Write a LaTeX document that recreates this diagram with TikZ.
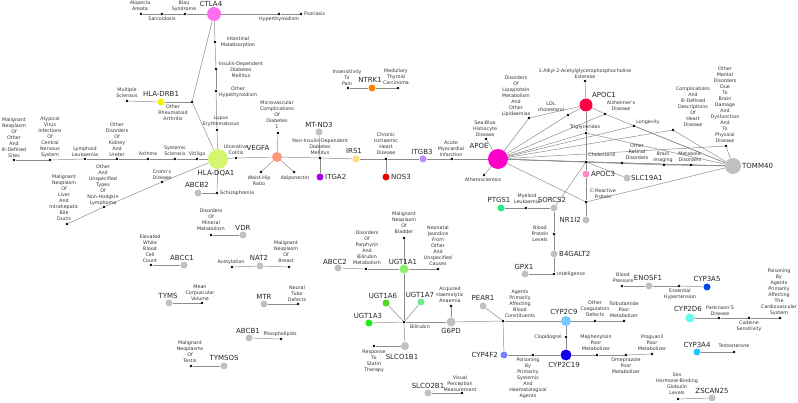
\documentclass[tikz,border=0pt]{standalone}
\usepackage{fontspec}
\setmainfont{DejaVu Sans}
\usetikzlibrary{backgrounds}
\definecolor{cctla}{RGB}{250,110,240}
\definecolor{cdrb}{RGB}{245,245,0}
\definecolor{cdqa}{RGB}{212,245,110}
\definecolor{cvegf}{RGB}{255,150,120}
\definecolor{cgrey}{RGB}{192,192,192}
\definecolor{citga}{RGB}{170,0,240}
\definecolor{cirs}{RGB}{255,220,120}
\definecolor{cnos}{RGB}{235,0,0}
\definecolor{citgb}{RGB}{185,140,255}
\definecolor{cntrk}{RGB}{255,130,0}
\definecolor{capoe}{RGB}{255,0,200}
\definecolor{capoc1}{RGB}{255,0,70}
\definecolor{capoc3}{RGB}{255,135,200}
\definecolor{cptgs}{RGB}{30,235,130}
\definecolor{cugt1}{RGB}{140,240,110}
\definecolor{cugt7}{RGB}{110,235,140}
\definecolor{cugt6}{RGB}{70,220,40}
\definecolor{cugt3}{RGB}{30,235,20}
\definecolor{ccypnine}{RGB}{120,200,255}
\definecolor{ccypnineteen}{RGB}{20,0,235}
\definecolor{ccypfourf}{RGB}{120,130,255}
\definecolor{ccypfive}{RGB}{0,70,235}
\definecolor{ccypdsix}{RGB}{100,250,235}
\definecolor{ccypfour}{RGB}{30,200,240}
\begin{document}
\begin{tikzpicture}[x=1pt,y=-1pt,
  gene/.style={circle,inner sep=0pt,draw=none,minimum size=#1},
  tdot/.style={circle,fill=black,inner sep=0pt,minimum size=2.6pt},
  link/.style={draw=black!45,line width=0.5pt},
  glab/.style={inner sep=0pt,font=\fontsize{7}{8}\selectfont,text=black!85},
  tlab/.style={inner sep=0pt,align=center,font=\fontsize{4.8}{6}\selectfont,text=black!80}]
\path[use as bounding box] (0,0) rectangle (798,403);

% ---------- gene nodes ----------
\node[gene=14pt,fill=cctla] (ctla4) at (214,14) {};
\node[gene=7pt,fill=cdrb] (drb1) at (161,102) {};
\node[gene=20pt,fill=cdqa] (dqa1) at (218,159) {};
\node[gene=10pt,fill=cvegf] (vegfa) at (277,157) {};
\node[gene=7pt,fill=cgrey] (mtnd3) at (319,132) {};
\node[gene=7pt,fill=citga] (itga2) at (320,177) {};
\node[gene=7pt,fill=cirs] (irs1) at (356,159) {};
\node[gene=7pt,fill=cnos] (nos3) at (386,177) {};
\node[gene=7pt,fill=citgb] (itgb3) at (423,159) {};
\node[gene=7pt,fill=cntrk] (ntrk1) at (372,88) {};
\node[gene=20pt,fill=capoe] (apoe) at (498,159) {};
\node[gene=13pt,fill=capoc1] (apoc1) at (586,105) {};
\node[gene=7pt,fill=capoc3] (apoc3) at (586,174) {};
\node[gene=16pt,fill=cgrey] (tomm40) at (733,166) {};
\node[gene=7pt,fill=cgrey] (slc19a1) at (627,178) {};
\node[gene=7pt,fill=cgrey] (nr1i2) at (586,220) {};
\node[gene=7pt,fill=cgrey] (sorcs2) at (554,208) {};
\node[gene=7pt,fill=cptgs] (ptgs1) at (501,208) {};
\node[gene=7pt,fill=cgrey] (b4galt2) at (554,254) {};
\node[gene=7pt,fill=cgrey] (gpx1) at (525,274) {};
\node[gene=9pt,fill=cugt1] (ugt1a1) at (404,269) {};
\node[gene=7pt,fill=cugt7] (ugt1a7) at (421,302) {};
\node[gene=7pt,fill=cugt6] (ugt1a6) at (386,303) {};
\node[gene=7pt,fill=cugt3] (ugt1a3) at (369,323) {};
\node[gene=8pt,fill=cgrey] (slco1b1) at (405,346) {};
\node[gene=9pt,fill=cgrey] (g6pd) at (451,322) {};
\node[gene=7pt,fill=cgrey] (pear1) at (483,306) {};
\node[gene=10pt,fill=ccypnine] (cyp2c9) at (566,321) {};
\node[gene=11pt,fill=ccypnineteen] (cyp2c19) at (566,355) {};
\node[gene=7pt,fill=ccypfourf] (cyp4f2) at (504,355) {};
\node[gene=7pt,fill=cgrey] (enosf1) at (649,286) {};
\node[gene=7pt,fill=ccypfive] (cyp3a5) at (707,287) {};
\node[gene=9pt,fill=ccypdsix] (cyp2d6) at (690,318) {};
\node[gene=7pt,fill=ccypfour] (cyp3a4) at (697,352) {};
\node[gene=7pt,fill=cgrey] (zscan25) at (712,398) {};
\node[gene=7pt,fill=cgrey] (vdr) at (243,235) {};
\node[gene=7pt,fill=cgrey] (nat2) at (260,266) {};
\node[gene=7pt,fill=cgrey] (abcc1) at (184,265) {};
\node[gene=7pt,fill=cgrey] (tyms) at (169,303) {};
\node[gene=7pt,fill=cgrey] (mtr) at (264,304) {};
\node[gene=7pt,fill=cgrey] (abcb1) at (249,338) {};
\node[gene=7pt,fill=cgrey] (tymsos) at (224,366) {};
\node[gene=7pt,fill=cgrey] (slco2b1) at (428,393) {};
\node[gene=7pt,fill=cgrey] (abcb2) at (198,193) {};
\node[gene=7pt,fill=cgrey] (abcc2) at (338,268) {};

% ---------- trait dots ----------
\foreach \n/\x/\y in {t_alop/141/14,t_sarc/162/14,t_blau/185/14,t_hyper/279/14,t_psor/301/14,
  t_intest/215/42,t_iddm/216/69,t_ohypo/216/91,t_lupus/217/130,t_ms/127/101,t_ra/192/102,
  t_mo/14/160,t_atyp/50/160,t_lymph/85/159,t_kid/117/159,t_asth/148/159,t_syssc/175/159,t_vit/197/159,
  t_uc/236/158,t_crohn/162/182,t_nhl/104/207,t_liver/67/224,t_schiz/217/193,
  t_micro/278/133,t_waist/261/172,t_adipo/294/172,t_niddm/320/158,
  t_chd/386/159,t_ami/452/159,t_sea/486/139,t_ather/484/175,t_ins/348/88,t_mtc/398/88,
  t_alkyl/585/81,t_lipo/529/118,t_ldl/568/115,t_trig/586/133,t_alz/605/114,t_long/634/126,
  t_compl/673/130,t_ment/726/146,t_chol/586/162,t_ret/622/163,t_brain/664/165,t_metab/691/165,t_crp/586/202,
  t_myel/526/208,t_bpl/554/234,t_intel/554/274,
  t_bladder/404/238,t_neon/438/269,t_porph/366/269,t_bili/404/322,t_aha/451/306,t_agents/503/321,
  t_statin/374/346,t_clop/566/337,t_poison/533/355,t_ocd/595/321,t_tolb/624/321,
  t_meph/597/355,t_omep/626/355,t_prog/652/354,
  t_bp/622/286,t_eh/679/286,t_park/719/318,t_cod/749/318,t_poisc/780/318,t_testo/734/352,t_shbg/678/399,
  t_dismin/211/235,t_acet/232/267,t_breast/289/267,t_ewbc/151/265,t_mcv/202/303,t_ntd/298/304,
  t_phos/281/339,t_testis/191/366,t_visual/462/393}
  \node[tdot] (\n) at (\x,\y) {};

% ---------- connectors ----------
\begin{scope}[on background layer]
\foreach \a/\b in {ctla4/t_blau,t_blau/t_sarc,t_sarc/t_alop,ctla4/t_hyper,t_hyper/t_psor,
  ctla4/t_intest,t_intest/t_iddm,t_iddm/t_ohypo,t_ohypo/t_lupus,t_lupus/dqa1,
  ctla4/t_ra,t_ra/dqa1,t_ra/drb1,drb1/t_ms,
  t_mo/t_atyp,t_atyp/t_lymph,t_lymph/t_kid,t_kid/t_asth,t_asth/t_syssc,t_syssc/t_vit,t_vit/dqa1,
  dqa1/t_crohn,t_crohn/t_nhl,t_nhl/t_liver,dqa1/t_schiz,t_schiz/abcb2,
  dqa1/t_uc,t_uc/vegfa,vegfa/t_micro,vegfa/t_waist,vegfa/t_adipo,vegfa/t_niddm,
  t_niddm/mtnd3,t_niddm/itga2,t_niddm/irs1,irs1/t_chd,t_chd/nos3,t_chd/itgb3,itgb3/t_ami,t_ami/apoe,
  t_ins/ntrk1,ntrk1/t_mtc,
  apoe/t_sea,apoe/t_ather,apoe/t_lipo,apoe/t_ldl,apoe/t_trig,apoe/t_alz,apoe/t_long,apoe/t_compl,
  apoe/t_ment,apoe/t_chol,apoe/t_ret,apoe/t_brain,apoe/t_metab,apoe/t_crp,
  apoc1/t_alkyl,apoc1/t_lipo,apoc1/t_ldl,apoc1/t_trig,apoc1/t_alz,
  t_trig/t_chol,t_chol/apoc3,apoc3/t_crp,t_crp/nr1i2,
  tomm40/t_alz,tomm40/t_long,tomm40/t_compl,tomm40/t_ment,tomm40/t_chol,tomm40/t_ret,
  tomm40/t_brain,tomm40/t_metab,tomm40/t_crp,tomm40/t_trig,
  t_chol/slc19a1,sorcs2/t_chol,sorcs2/t_myel,t_myel/ptgs1,sorcs2/t_bpl,t_bpl/b4galt2,
  b4galt2/t_intel,t_intel/gpx1,
  abcc2/t_porph,t_porph/ugt1a1,ugt1a1/t_neon,ugt1a1/t_bladder,ugt1a1/t_bili,
  ugt1a6/t_bili,ugt1a7/t_bili,ugt1a3/t_bili,t_bili/slco1b1,slco1b1/t_statin,
  t_bili/g6pd,g6pd/t_aha,g6pd/t_agents,t_agents/pear1,t_agents/cyp2c9,t_agents/cyp4f2,
  cyp4f2/t_poison,t_poison/cyp2c19,cyp2c9/t_clop,t_clop/cyp2c19,
  cyp2c9/t_ocd,t_ocd/t_tolb,cyp2c19/t_meph,t_meph/t_omep,t_omep/t_prog,
  t_bp/enosf1,enosf1/t_eh,t_eh/cyp3a5,cyp2d6/t_park,t_park/t_cod,t_cod/t_poisc,
  cyp3a4/t_testo,t_shbg/zscan25,
  t_dismin/vdr,t_acet/nat2,nat2/t_breast,t_ewbc/abcc1,tyms/t_mcv,mtr/t_ntd,abcb1/t_phos,
  t_testis/tymsos,slco2b1/t_visual}
  \draw[link] (\a) -- (\b);
\end{scope}

% ---------- gene labels ----------
\node[glab] (l_ctla4) at (211,4) {CTLA4};
\node[glab] (l_drb1) at (161,94) {HLA-DRB1};
\node[glab] (l_dqa1) at (216,173) {HLA-DQA1};
\node[glab] (l_vegfa) at (258,148) {VEGFA};
\node[glab] (l_mtnd3) at (319,125) {MT-ND3};
\node[glab,anchor=west] (l_itga2) at (325,177) {ITGA2};
\node[glab] (l_irs1) at (354,151) {IRS1};
\node[glab,anchor=west] (l_nos3) at (391,177) {NOS3};
\node[glab] (l_itgb3) at (422,152) {ITGB3};
\node[glab] (l_ntrk1) at (370,80) {NTRK1};
\node[glab] (l_apoe) at (479,146) {APOE};
\node[glab] (l_apoc1) at (604,95) {APOC1};
\node[glab,anchor=west] (l_apoc3) at (591,174) {APOC3};
\node[glab,anchor=west] (l_tomm40) at (742,166) {TOMM40};
\node[glab,anchor=west] (l_slc19a1) at (631,178) {SLC19A1};
\node[glab,anchor=east] (l_nr1i2) at (581,220) {NR1I2};
\node[glab] (l_sorcs2) at (552,200) {SORCS2};
\node[glab] (l_ptgs1) at (499,200) {PTGS1};
\node[glab,anchor=west] (l_b4galt2) at (559,254) {B4GALT2};
\node[glab] (l_gpx1) at (524,267) {GPX1};
\node[glab] (l_ugt1a1) at (403,262) {UGT1A1};
\node[glab] (l_ugt1a7) at (420,295) {UGT1A7};
\node[glab] (l_ugt1a6) at (383,296) {UGT1A6};
\node[glab] (l_ugt1a3) at (368,316) {UGT1A3};
\node[glab] (l_slco1b1) at (402,357) {SLCO1B1};
\node[glab] (l_g6pd) at (451,331) {G6PD};
\node[glab] (l_pear1) at (483,298) {PEAR1};
\node[glab] (l_cyp2c9) at (564,312) {CYP2C9};
\node[glab] (l_cyp2c19) at (564,365) {CYP2C19};
\node[glab,anchor=east] (l_cyp4f2) at (498,355) {CYP4F2};
\node[glab] (l_enosf1) at (648,278) {ENOSF1};
\node[glab] (l_cyp3a5) at (707,279) {CYP3A5};
\node[glab] (l_cyp2d6) at (688,309) {CYP2D6};
\node[glab] (l_cyp3a4) at (697,345) {CYP3A4};
\node[glab] (l_zscan25) at (712,391) {ZSCAN25};
\node[glab] (l_vdr) at (243,228) {VDR};
\node[glab] (l_nat2) at (259,258) {NAT2};
\node[glab] (l_abcc1) at (182,258) {ABCC1};
\node[glab] (l_tyms) at (168,296) {TYMS};
\node[glab] (l_mtr) at (264,297) {MTR};
\node[glab] (l_abcb1) at (248,331) {ABCB1};
\node[glab] (l_tymsos) at (224,358) {TYMSOS};
\node[glab] (l_slco2b1) at (428,386) {SLCO2B1};
\node[glab] (l_abcb2) at (197,185) {ABCB2};
\node[glab] (l_abcc2) at (335,262) {ABCC2};

% ---------- trait labels ----------
\node[tlab] (m_alop) at (140,6) {Alopecia\\Areata};
\node[tlab] (m_sarc) at (162,19) {Sarcoidosis};
\node[tlab] (m_blau) at (184,6) {Blau\\Syndrome};
\node[tlab] (m_hyper) at (279,19) {Hyperthyroidism};
\node[tlab,anchor=west] (m_psor) at (304,14) {Psoriasis};
\node[tlab] (m_intest) at (238,42) {Intestinal\\Malabsorption};
\node[tlab] (m_iddm) at (241,70) {Insulin-Dependent\\Diabetes\\Mellitus};
\node[tlab] (m_ohypo) at (238,92) {Other\\Hypothyroidism};
\node[tlab] (m_lupus) at (221,121) {Lupus\\Erythematosus};
\node[tlab] (m_ms) at (127,93) {Multiple\\Sclerosis};
\node[tlab] (m_ra) at (173,113) {Other\\Rheumatoid\\Arthritis};
\node[tlab] (m_mo) at (14,137.5) {Malignant\\Neoplasm\\Of\\Other\\And\\Ill-Defined\\Sites};
\node[tlab] (m_atyp) at (50,137.5) {Atypical\\Virus\\Infections\\Of\\Central\\Nervous\\System};
\node[tlab] (m_lymph) at (85,152) {Lymphoid\\Leukaemia};
\node[tlab] (m_kid) at (117,140) {Other\\Disorders\\Of\\Kidney\\And\\Ureter};
\node[tlab] (m_asth) at (148,154) {Asthma};
\node[tlab] (m_syssc) at (175,151) {Systemic\\Sclerosis};
\node[tlab] (m_vit) at (197,154) {Vitiligo};
\node[tlab] (m_uc) at (236,150) {Ulcerative\\Colitis};
\node[tlab] (m_crohn) at (162,175) {Crohn's\\Disease};
\node[tlab] (m_nhl) at (103,185) {Other\\And\\Unspecified\\Types\\Of\\Non-Hodgkin\\Lymphoma};
\node[tlab] (m_liver) at (64,198) {Malignant\\Neoplasm\\Of\\Liver\\And\\Intrahepatic\\Bile\\Ducts};
\node[tlab,anchor=west] (m_schiz) at (220,193) {Schizophrenia};
\node[tlab] (m_micro) at (277,115) {Microvascular\\Complications\\Of\\Diabetes\\1};
\node[tlab] (m_waist) at (259,181) {Waist-Hip\\Ratio};
\node[tlab] (m_adipo) at (295,178) {Adiponectin};
\node[tlab] (m_niddm) at (320,147) {Non-Insulin-Dependent\\Diabetes\\Mellitus};
\node[tlab] (m_chd) at (386,144) {Chronic\\Ischaemic\\Heart\\Disease};
\node[tlab] (m_ami) at (451,148.5) {Acute\\Myocardial\\Infarction};
\node[tlab] (m_sea) at (485,129) {Sea-Blue\\Histiocyte\\Disease};
\node[tlab] (m_ather) at (483,180) {Atherosclerosis};
\node[tlab] (m_ins) at (347,78) {Insensitivity\\To\\Pain};
\node[tlab] (m_mtc) at (396,77) {Medullary\\Thyroid\\Carcinoma};
\node[tlab] (m_alkyl) at (585,74) {1-Alkyl-2-Acetylglycerophosphocholine\\Esterase};
\node[tlab] (m_lipo) at (516,96) {Disorders\\Of\\Lipoprotein\\Metabolism\\And\\Other\\Lipidaemias};
\node[tlab] (m_ldl) at (551,107) {LDL\\cholesterol};
\node[tlab] (m_trig) at (585,127) {Triglycerides};
\node[tlab] (m_alz) at (621,106) {Alzheimer's\\Disease};
\node[tlab] (m_long) at (648,122) {Longevity};
\node[tlab] (m_compl) at (693,106.5) {Complications\\And\\Ill-Defined\\Descriptions\\Of\\Heart\\Disease};
\node[tlab] (m_ment) at (725,105) {Other\\Mental\\Disorders\\Due\\To\\Brain\\Damage\\And\\Dysfunction\\And\\To\\Physical\\Disease};
\node[tlab] (m_chol) at (602,155) {Cholesterol};
\node[tlab] (m_ret) at (637,152) {Other\\Retinal\\Disorders};
\node[tlab] (m_brain) at (663,157) {Brain\\Imaging};
\node[tlab] (m_metab) at (690,157) {Metabolic\\Disorders};
\node[tlab] (m_crp) at (603,194) {C-Reactive\\Protein};
\node[tlab] (m_myel) at (527,199) {Myeloid\\Leukaemia};
\node[tlab] (m_bpl) at (540,234) {Blood\\Protein\\Levels};
\node[tlab,anchor=west] (m_intel) at (557,274) {Intelligence};
\node[tlab] (m_bladder) at (404,223) {Malignant\\Neoplasm\\Of\\Bladder};
\node[tlab] (m_neon) at (438,246) {Neonatal\\Jaundice\\From\\Other\\And\\Unspecified\\Causes};
\node[tlab] (m_porph) at (367,248) {Disorders\\Of\\Porphyrin\\And\\Bilirubin\\Metabolism};
\node[tlab] (m_bili) at (420,327) {Bilirubin};
\node[tlab] (m_aha) at (450,295) {Acquired\\Haemolytic\\Anaemia};
\node[tlab] (m_agents) at (520,304) {Agents\\Primarily\\Affecting\\Blood\\Constituents};
\node[tlab] (m_statin) at (374,361) {Response\\To\\Statin\\Therapy};
\node[tlab] (m_clop) at (548,337) {Clopidogrel};
\node[tlab] (m_poison) at (528,378) {Poisoning\\By\\Primarily\\Systemic\\And\\Haematological\\Agents};
\node[tlab] (m_ocd) at (595,309) {Other\\Coagulation\\Defects};
\node[tlab] (m_tolb) at (624,310) {Tolbutamide\\Poor\\Metabolizer};
\node[tlab] (m_meph) at (596,343) {Mephenytoin\\Poor\\Metabolizer};
\node[tlab] (m_omep) at (626,366) {Omeprazole\\Poor\\Metabolizer};
\node[tlab] (m_prog) at (652,343) {Proguanil\\Poor\\Metabolizer};
\node[tlab] (m_bp) at (623,278) {Blood\\Pressure};
\node[tlab] (m_eh) at (680,294) {Essential\\Hypertension};
\node[tlab] (m_park) at (720,311) {Parkinson'S\\Disease};
\node[tlab] (m_cod) at (749,326) {Codeine\\Sensitivity};
\node[tlab] (m_poisc) at (779,292) {Poisoning\\By\\Agents\\Primarily\\Affecting\\The\\Cardiovascular\\System};
\node[tlab] (m_testo) at (734,346) {Testosterone};
\node[tlab] (m_shbg) at (677,384) {Sex\\Hormone-Binding\\Globulin\\Levels};
\node[tlab] (m_dismin) at (211,220) {Disorders\\Of\\Mineral\\Metabolism};
\node[tlab] (m_acet) at (231,262) {Acetylation};
\node[tlab] (m_breast) at (286,252) {Malignant\\Neoplasm\\Of\\Breast};
\node[tlab] (m_ewbc) at (150,249) {Elevated\\White\\Blood\\Cell\\Count};
\node[tlab] (m_mcv) at (200,293) {Mean\\Corpuscular\\Volume};
\node[tlab] (m_ntd) at (297,294) {Neural\\Tube\\Defects};
\node[tlab] (m_phos) at (280,334) {Phospholipids};
\node[tlab] (m_testis) at (190,352) {Malignant\\Neoplasms\\Of\\Testis};
\node[tlab] (m_visual) at (460,384) {Visual\\Perception\\Measurement};
\end{tikzpicture}
\end{document}
